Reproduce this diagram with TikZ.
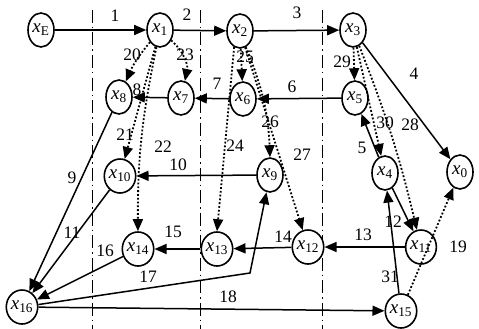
\documentclass[tikz,border=0pt]{standalone}
\usepackage{fontspec}
\setmainfont{Liberation Serif}
\usetikzlibrary{arrows.meta,shapes.geometric}
\newcommand{\xv}[1]{\textit{x}\textsubscript{#1}}

\begin{document}
\begin{tikzpicture}[x=1pt,y=-1pt,
  n/.style={ellipse,draw,fill=white,line width=1.6pt,inner sep=0pt,minimum width=26pt,
            minimum height=34pt,font=\fontsize{19}{19}\selectfont},
  a/.style={-{Triangle[length=12pt,width=10pt]},line width=1.5pt},
  da/.style={a,line width=1.8pt,dash pattern=on 1.8pt off 2pt},
  lb/.style={inner sep=0pt,font=\fontsize{17.5}{17.5}\selectfont},
  v/.style={line width=1pt,dash pattern=on 13pt off 4pt on 1.5pt off 4pt}
]
  \useasboundingbox (0,0) rectangle (479,329);
  % stage dividers
  \foreach \px/\nm in {92/d1,200/d2,322/d3}{
    \coordinate (\nm t) at (\px,10);
    \coordinate (\nm b) at (\px,329);
    \draw[v] (\nm t) -- (\nm b);
  }
  % nodes
  \node[n] (xE) at (41,30) {\xv{E}};
  \node[n] (x1) at (160,30) {\xv{1}};
  \node[n] (x2) at (240,31) {\xv{2}};
  \node[n] (x3) at (353,30) {\xv{3}};
  \node[n] (x8) at (119,97) {\xv{8}};
  \node[n] (x7) at (181,98) {\xv{7}};
  \node[n] (x6) at (243,99) {\xv{6}};
  \node[n] (x5) at (355,98) {\xv{5}};
  \node[n] (x10) at (120,176) {\xv{10}};
  \node[n] (x9) at (270,175) {\xv{9}};
  \node[n] (x4) at (385,173) {\xv{4}};
  \node[n] (x0) at (460,172) {\xv{0}};
  \node[n] (x14) at (138,249) {\xv{14}};
  \node[n] (x13) at (217,249) {\xv{13}};
  \node[n] (x12) at (308,247) {\xv{12}};
  \node[n] (x11) at (421,247) {\xv{11}};
  \node[n] (x16) at (22,307) {\xv{16}};
  \node[n] (x15) at (401,311) {\xv{15}};
  \coordinate (k17) at (250,273);
  % solid edges
  \draw[a] (xE) -- (x1);
  \draw[a] (x1) -- (x2);
  \draw[a] (x2) -- (x3);
  \draw[a] (x3) -- (x0);
  \draw[a] (x4) -- (x5);
  \draw[a] (x5) -- (x6);
  \draw[a] (x6) -- (x7);
  \draw[a] (x7) -- (x8);
  \draw[a] (x8) -- (x16);
  \draw[a] (x9) -- (x10);
  \draw[a] (x10) -- (x16);
  \draw[a] (x4) -- (x11);
  \draw[a] (x11) -- (x12);
  \draw[a] (x12) -- (x13);
  \draw[a] (x13) -- (x14);
  \draw[a] (x14) -- (x16);
  \draw[a] (x16) -- (k17) -- (x9);
  \draw[a] (x16) -- (x15);
  \draw[a] (x15) -- (x4);
  % dotted edges
  \draw[da] (x15) -- (x0);
  \draw[da] (x1) to[bend right=8] (x8);
  \draw[da] (x1) -- (x10);
  \draw[da] (x1) to[bend right=6] (x14);
  \draw[da] (x1) to[bend left=30] (x7);
  \draw[da] (x2.250) -- (x13.north);
  \draw[da] (x2) -- (x6);
  \draw[da] (x2.290) to[bend left=10] (x9.north);
  \draw[da] (x2) -- (x12);
  \draw[da] (x3) to[bend left=4] (x11);
  \draw[da] (x3) -- (x5);
  \draw[da] (x3) -- (x4);
  % edge numbers
  \node[lb] (t1) at (115,16) {1};
  \node[lb] (t2) at (187,15) {2};
  \node[lb] (t3) at (297,13) {3};
  \node[lb] (t4) at (414,74) {4};
  \node[lb] (t5) at (362,148) {5};
  \node[lb] (t6) at (292,87) {6};
  \node[lb] (t7) at (217,84) {7};
  \node[lb] (t8) at (137,90) {8};
  \node[lb] (t9) at (72,178) {9};
  \node[lb] (t10) at (178,165) {10};
  \node[lb] (t11) at (72,233) {11};
  \node[lb] (t12) at (393,222) {12};
  \node[lb] (t13) at (363,235) {13};
  \node[lb] (t14) at (283,237) {14};
  \node[lb] (t15) at (173,232) {15};
  \node[lb] (t16) at (105,251) {16};
  \node[lb] (t17) at (148,277) {17};
  \node[lb] (t18) at (228,297) {18};
  \node[lb] (t19) at (458,247) {19};
  \node[lb] (t20) at (132,55) {20};
  \node[lb] (t21) at (125,135) {21};
  \node[lb] (t22) at (163,147) {22};
  \node[lb] (t23) at (185,55) {23};
  \node[lb] (t24) at (235,146) {24};
  \node[lb] (t25) at (245,57) {25};
  \node[lb] (t26) at (270,122) {26};
  \node[lb] (t27) at (302,155) {27};
  \node[lb] (t28) at (410,125) {28};
  \node[lb] (t29) at (342,62) {29};
  \node[lb] (t30) at (385,123) {30};
  \node[lb] (t31) at (390,277) {31};
\end{tikzpicture}
\end{document}
